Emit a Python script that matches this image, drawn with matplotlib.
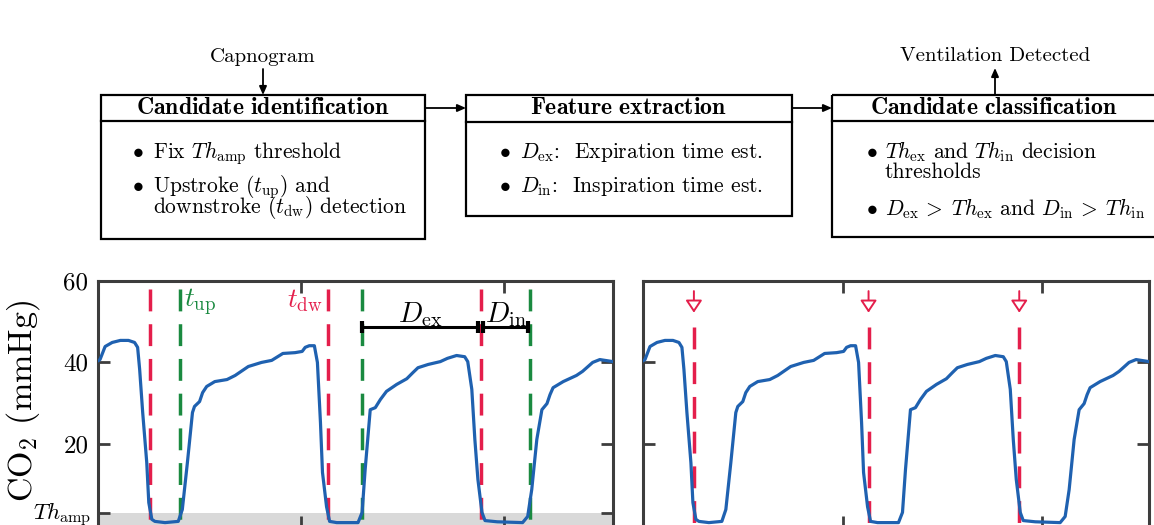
import matplotlib
matplotlib.use("Agg")
import matplotlib.pyplot as plt
from matplotlib.patches import Rectangle

plt.rcParams.update({
    "font.family": "serif",
    "font.serif": ["cmr10", "DejaVu Serif"],
    "mathtext.fontset": "cm",
    "axes.unicode_minus": False,
    "axes.formatter.use_mathtext": True,
})

# ── data (time in s, CO2 in mmHg) ───────────────────────────────────────────
T = [0.00, 0.02, 0.07, 0.14, 0.22, 0.30, 0.36, 0.39, 0.41, 0.44, 0.48, 0.50,
     0.53, 0.56, 0.66, 0.79, 0.83, 0.88, 0.93, 0.95, 1.00, 1.03, 1.07, 1.15,
     1.27, 1.35, 1.48, 1.61, 1.71, 1.82, 1.94, 2.01, 2.04, 2.08, 2.13, 2.16,
     2.19, 2.21, 2.25, 2.28, 2.35, 2.56, 2.60, 2.63, 2.68, 2.73, 2.78, 2.84,
     2.94, 3.04, 3.10, 3.15, 3.25, 3.37, 3.44, 3.53, 3.61, 3.64, 3.68, 3.71,
     3.74, 3.78, 3.81, 3.93, 4.18, 4.23, 4.27, 4.32, 4.37, 4.42, 4.45, 4.48,
     4.58, 4.71, 4.77, 4.87, 4.94, 5.07]
CO2 = [40.3, 40.6, 43.8, 44.8, 45.3, 45.3, 44.8, 43.6, 38.2, 27.6, 15.3, 5.5,
       1.4, 0.9, 0.6, 0.9, 3.8, 15.3, 27.6, 29.1, 30.3, 32.5, 34.0, 35.2,
       35.7, 36.7, 38.9, 39.9, 40.4, 42.1, 42.3, 42.6, 43.6, 44.0, 44.0, 39.9,
       25.2, 12.9, 4.5, 0.9, 0.6, 0.6, 3.1, 13.6, 28.3, 28.8, 30.8, 32.8,
       34.5, 35.9, 37.4, 38.6, 39.4, 40.1, 40.9, 41.6, 41.3, 40.1, 33.3, 21.0,
       11.2, 3.1, 1.1, 0.8, 0.6, 2.1, 8.7, 21.0, 28.3, 29.8, 32.0, 33.7,
       35.2, 36.7, 37.7, 39.9, 40.6, 40.1]

T_DW = [0.51, 2.26, 3.77]      # downstroke instants
T_UP = [0.81, 2.60, 4.25]      # upstroke instants
TH_AMP = 3                     # amplitude threshold (mmHg)

Y_TICKS = [20, 40, 60]
X_TICKS = [2, 4]
X_MAX = 5.07

# ── styling ─────────────────────────────────────────────────────────────────
W, H = 1154, 525
BLUE = "#1f61b0"
RED = "#e41e4b"
GREEN = "#1a8a40"
SPINE = "#3d3d3d"
BAND = "#d9d9d9"
DASH = (6.3, 3.7)
FS = 15.5

fig = plt.figure(figsize=(W / 100, H / 100), dpi=100)

# ── block diagram (pixel coords) ────────────────────────────────────────────
dax = fig.add_axes([0, 0, 1, 1])
dax.set_xlim(0, W)
dax.set_ylim(H, 0)
dax.axis("off")

boxes = [
    (101, 425, 95, 121, 239, r"$\mathbf{Candidate\ identification}$", 138, 153,
     [(158, True, r"Fix $Th_{\rm amp}$ threshold"),
      (192, True, r"Upstroke ($t_{\rm up}$) and"),
      (213, False, r"downstroke ($t_{\rm dw}$) detection")]),
    (466, 792, 95, 122, 216, r"$\mathbf{Feature\ extraction}$", 505, 520,
     [(158, True, r"$D_{\rm ex}$:  Expiration time est."),
      (192, True, r"$D_{\rm in}$:  Inspiration time est.")]),
    (832, 1156, 95, 121, 237, r"$\mathbf{Candidate\ classification}$", 872, 885,
     [(158, True, r"$Th_{\rm ex}$ and $Th_{\rm in}$ decision"),
      (178, False, "thresholds"),
      (215, True, r"$D_{\rm ex}\,>\;Th_{\rm ex}$ and $D_{\rm in}\,>\;Th_{\rm in}$")]),
]
for x0, x1, top, mid, bot, title, bx, tx, lines in boxes:
    dax.add_patch(Rectangle((x0, top), x1 - x0, bot - top, fill=False,
                            ec="black", lw=1.6, clip_on=False))
    dax.plot([x0, x1], [mid, mid], color="black", lw=1.6, clip_on=False)
    dax.text((x0 + x1) / 2, 114, title, ha="center", va="baseline", fontsize=17.2)
    for yb, bullet, s in lines:
        if bullet:
            dax.text(bx, yb - 1, r"$\bullet$", ha="center", va="baseline", fontsize=FS)
        dax.text(tx, yb, s, ha="left", va="baseline", fontsize=FS)

arr = dict(arrowstyle="-|>,head_length=0.5,head_width=0.22", color="black",
           lw=1.3, shrinkA=0, shrinkB=0)
dax.annotate("", xy=(466, 108), xytext=(425, 108), arrowprops=arr)
dax.annotate("", xy=(832, 108), xytext=(792, 108), arrowprops=arr)
dax.annotate("", xy=(263, 95), xytext=(263, 69), arrowprops=arr)
dax.annotate("", xy=(995, 68), xytext=(995, 95), arrowprops=arr)
dax.text(263, 62, "Capnogram", ha="center", va="baseline", fontsize=15)
dax.text(995, 61, "Ventilation Detected", ha="center", va="baseline", fontsize=15)


# ── signal panels ───────────────────────────────────────────────────────────
def style_axes(ax, yticks):
    ax.set_xlim(0, X_MAX)
    ax.set_ylim(-0.6, 60)
    ax.set_xticks(X_TICKS)
    ax.set_yticks(yticks)
    ax.tick_params(direction="in", length=8.5, width=2, color=SPINE,
                   top=True, right=True, labelbottom=False, labelsize=18, pad=7)
    for sp in ax.spines.values():
        sp.set_color(SPINE)
        sp.set_linewidth(2.2)


axL = fig.add_axes([98 / W, -2.5 / H, 515 / W, 247 / H])
axR = fig.add_axes([643 / W, -2.5 / H, 506 / W, 247 / H])

# left: identification + features
style_axes(axL, [TH_AMP] + Y_TICKS)
axL.set_yticklabels([""] + [str(v) for v in Y_TICKS])
axL.annotate(r"$Th_{\rm amp}$", xy=(0, TH_AMP), xycoords=("axes fraction", "data"),
             xytext=(-4.5, -5), textcoords="offset points", ha="right",
             va="baseline", fontsize=16.5, annotation_clip=False)
axL.axhspan(-1, TH_AMP, color=BAND, lw=0, zorder=0)
for t in T_DW:
    axL.plot([t, t], [57.8, -0.6], color=RED, lw=2.5, dashes=DASH, zorder=2)
for t in T_UP:
    axL.plot([t, t], [57.8, -0.6], color=GREEN, lw=2.5, dashes=DASH, zorder=2)
axL.plot(T, CO2, color=BLUE, lw=2.3, zorder=3)

axL.text(T_UP[0] + 0.04, 53.4, r"$t_{\rm up}$", color=GREEN, fontsize=19.5,
         ha="left", va="baseline")
axL.text(T_DW[1] - 0.05, 53.4, r"$t_{\rm dw}$", color=RED, fontsize=19.5,
         ha="right", va="baseline")

# duration bars
ybar = 48.5
dex = (T_UP[1], T_DW[2] - 0.03)
din = (T_DW[2] + 0.02, T_UP[2] - 0.02)
for a, b in (dex, din):
    axL.plot([a, b], [ybar, ybar], color="black", lw=2.2, zorder=4)
    axL.plot([a, b], [ybar, ybar], ls="none", marker="|", ms=9, mew=3,
             color="black", zorder=4)
axL.text(sum(dex) / 2, 49.8, r"$D_{\rm ex}$", fontsize=20.5, ha="center", va="baseline")
axL.text(din[0] + 0.02, 49.8, r"$D_{\rm in}$", fontsize=20.5, ha="left", va="baseline")

fig.text(23 / W, 124 / H, r"CO$_2$ (mmHg)", rotation=90, ha="center",
         va="center", fontsize=24.5)

# right: classification result
style_axes(axR, Y_TICKS)
axR.set_yticklabels([])
for t in T_DW:
    axR.plot([t, t], [48.7, -0.6], color=RED, lw=2.5, dashes=DASH, zorder=2)
    axR.annotate("", xy=(t, 52.1), xytext=(t, 57.4),
                 arrowprops=dict(arrowstyle="-|>,head_length=0.75,head_width=0.5",
                                 fc="white", ec=RED, lw=1.4,
                                 shrinkA=0, shrinkB=0))
axR.plot(T, CO2, color=BLUE, lw=2.3, zorder=3)

fig.savefig("out.png", dpi=100)
